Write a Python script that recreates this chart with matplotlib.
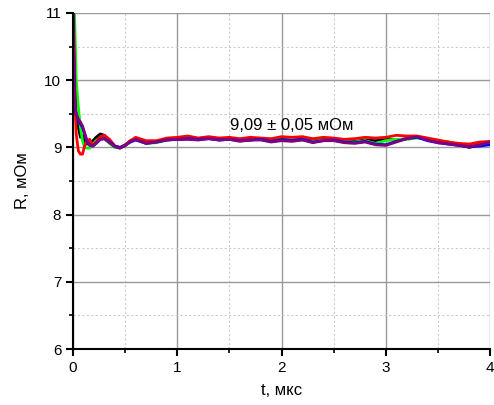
import numpy as np
import matplotlib.pyplot as plt
from matplotlib.ticker import MultipleLocator

plt.rcParams['font.family'] = ['Liberation Sans', 'DejaVu Sans']

# time points, mks
t = [0, 0.01, 0.02, 0.03, 0.05, 0.07, 0.09, 0.11, 0.13, 0.16, 0.19, 0.22,
     0.26, 0.30, 0.35, 0.40, 0.45, 0.50, 0.55, 0.60, 0.70, 0.80, 0.90, 1.0,
     1.1, 1.2, 1.3, 1.4, 1.5, 1.6, 1.7, 1.8, 1.9, 2.0,
     2.1, 2.2, 2.3, 2.4, 2.5, 2.6, 2.7, 2.8, 2.9, 3.0,
     3.1, 3.2, 3.3, 3.4, 3.5, 3.6, 3.7, 3.8, 3.9, 4.0]

r_black = [11.5, 10.6, 9.8, 9.4, 9.3, 9.15, 9.18, 9.06, 9.05, 9.06, 9.1, 9.15,
           9.2, 9.18, 9.1, 9.02, 8.99, 9.03, 9.1, 9.13, 9.07, 9.09, 9.12, 9.12,
           9.13, 9.12, 9.14, 9.12, 9.13, 9.11, 9.11, 9.13, 9.10, 9.12,
           9.11, 9.12, 9.10, 9.12, 9.12, 9.10, 9.09, 9.11, 9.10, 9.12,
           9.11, 9.13, 9.15, 9.13, 9.09, 9.08, 9.04, 9.00, 9.04, 9.07]
r_green = [11.5, 11.2, 10.6, 10.0, 9.6, 9.3, 9.1, 9.0, 8.99, 8.99, 9.04, 9.1,
           9.14, 9.13, 9.06, 9.0, 8.99, 9.04, 9.09, 9.12, 9.06, 9.07, 9.11, 9.13,
           9.13, 9.12, 9.14, 9.11, 9.12, 9.10, 9.12, 9.12, 9.09, 9.11,
           9.10, 9.11, 9.09, 9.11, 9.10, 9.09, 9.08, 9.10, 9.06, 9.10,
           9.12, 9.12, 9.14, 9.12, 9.10, 9.08, 9.05, 9.02, 9.05, 9.06]
r_red = [11.5, 10.5, 9.6, 9.2, 8.95, 8.9, 8.9, 9.02, 9.1, 9.12, 9.03, 9.08,
         9.16, 9.18, 9.12, 9.02, 9.0, 9.04, 9.1, 9.15, 9.1, 9.1, 9.14, 9.15,
         9.17, 9.14, 9.16, 9.14, 9.15, 9.13, 9.15, 9.14, 9.13, 9.16,
         9.15, 9.16, 9.13, 9.15, 9.14, 9.12, 9.13, 9.15, 9.14, 9.15,
         9.18, 9.17, 9.17, 9.14, 9.11, 9.08, 9.06, 9.05, 9.08, 9.09]
r_blue = [11.0, 10.1, 9.55, 9.5, 9.4, 9.35, 9.3, 9.2, 9.1, 9.03, 9.02, 9.06,
          9.12, 9.13, 9.08, 9.02, 9.0, 9.03, 9.08, 9.11, 9.06, 9.08, 9.11, 9.12,
          9.13, 9.12, 9.13, 9.11, 9.12, 9.10, 9.11, 9.12, 9.09, 9.11,
          9.10, 9.12, 9.08, 9.10, 9.11, 9.08, 9.07, 9.09, 9.05, 9.04,
          9.09, 9.13, 9.15, 9.10, 9.07, 9.05, 9.03, 9.01, 9.02, 9.04]
r_purple = [10.8, 10.0, 9.6, 9.5, 9.42, 9.38, 9.32, 9.22, 9.12, 9.03, 9.02, 9.06,
            9.12, 9.13, 9.07, 9.01, 8.99, 9.03, 9.09, 9.12, 9.06, 9.08, 9.11, 9.12,
            9.12, 9.11, 9.13, 9.11, 9.12, 9.09, 9.11, 9.11, 9.08, 9.10,
            9.09, 9.11, 9.07, 9.10, 9.10, 9.07, 9.06, 9.08, 9.04, 9.03,
            9.08, 9.13, 9.16, 9.11, 9.07, 9.05, 9.03, 9.01, 9.04, 9.08]

fig = plt.figure(figsize=(4.94, 4.05), dpi=100)
ax = fig.add_axes([0.148, 0.138, 0.844, 0.83])

ax.plot(t, r_black, color='black', lw=2)
ax.plot(t, r_green, color='#00ff00', lw=2)
ax.plot(t, r_red, color='red', lw=2)
ax.plot(t, r_blue, color='blue', lw=2)
ax.plot(t, r_purple, color='#800080', lw=2)

ax.set_xlim(0, 4)
ax.set_ylim(6, 11)
ax.xaxis.set_major_locator(MultipleLocator(1))
ax.xaxis.set_minor_locator(MultipleLocator(0.5))
ax.yaxis.set_major_locator(MultipleLocator(1))
ax.yaxis.set_minor_locator(MultipleLocator(0.5))
ax.grid(which='major', color='#999999', lw=1, ls='-')
ax.grid(which='minor', color='#cccccc', lw=0.8, ls=(0, (2, 2)))
ax.set_axisbelow(True)

for s in ['top', 'right']:
    ax.spines[s].set_visible(False)
for s in ['left', 'bottom']:
    ax.spines[s].set_linewidth(1.5)
ax.tick_params(which='major', direction='out', length=5, width=1.5, labelsize=11)
ax.tick_params(which='minor', direction='out', length=3, width=1.2)

ax.set_xlabel('t, мкс', fontsize=12, labelpad=6)
ax.set_ylabel('R, мОм', fontsize=12, labelpad=10)
ax.text(2.1, 9.33, '9,09 ± 0,05 мОм', fontsize=12, ha='center', va='center')

fig.savefig('out.png', dpi=100)
